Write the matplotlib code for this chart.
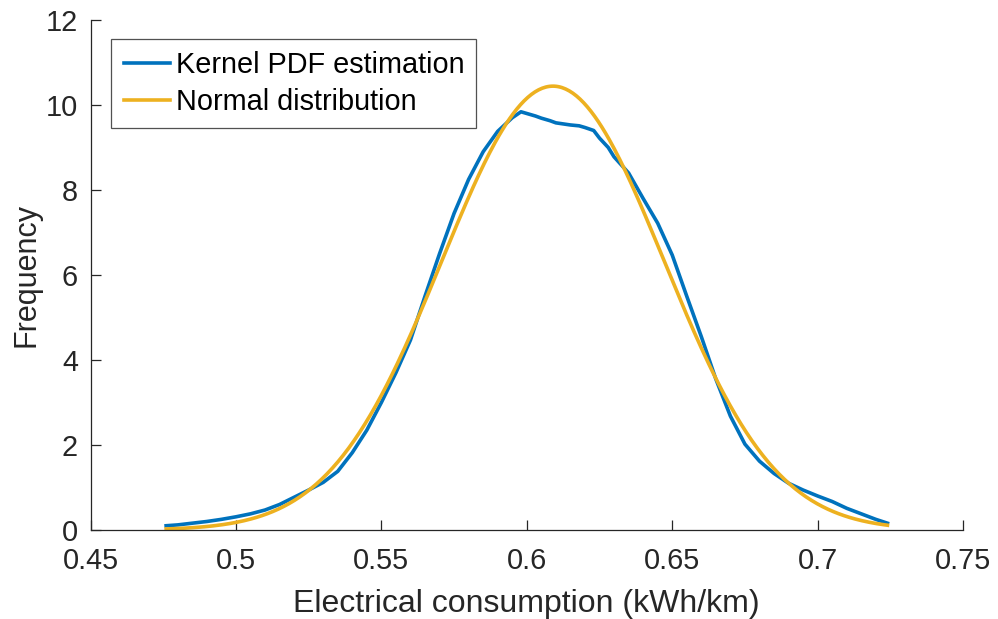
import numpy as np
import matplotlib
matplotlib.use("Agg")
import matplotlib.pyplot as plt

# Kernel density estimate of electrical consumption (kWh/km)
kde_x = [0.476, 0.480, 0.485, 0.490, 0.495, 0.500, 0.505, 0.510, 0.515, 0.520,
         0.525, 0.530, 0.535, 0.540, 0.545, 0.550, 0.555, 0.560, 0.565, 0.570,
         0.575, 0.580, 0.585, 0.590, 0.595, 0.598, 0.600, 0.603, 0.605, 0.608,
         0.610, 0.613, 0.615, 0.618, 0.620, 0.623, 0.625, 0.628, 0.630, 0.635,
         0.640, 0.645, 0.650, 0.655, 0.660, 0.665, 0.670, 0.675, 0.680, 0.685,
         0.690, 0.695, 0.700, 0.705, 0.710, 0.715, 0.720, 0.724]
kde_y = [0.10, 0.12, 0.16, 0.20, 0.25, 0.31, 0.38, 0.47, 0.60, 0.77,
         0.94, 1.12, 1.38, 1.82, 2.35, 3.00, 3.70, 4.47, 5.50, 6.50,
         7.45, 8.25, 8.90, 9.38, 9.70, 9.84, 9.80, 9.74, 9.69, 9.63,
         9.58, 9.55, 9.53, 9.51, 9.47, 9.40, 9.22, 9.00, 8.78, 8.40,
         7.80, 7.22, 6.47, 5.50, 4.55, 3.55, 2.68, 2.02, 1.62, 1.33,
         1.10, 0.94, 0.80, 0.67, 0.51, 0.38, 0.25, 0.16]

# Fitted normal distribution parameters
norm_mu = 0.609
norm_sigma = 0.0382
norm_range = [0.476, 0.724]

x_ticks = [0.45, 0.5, 0.55, 0.6, 0.65, 0.7, 0.75]
x_tick_labels = ["0.45", "0.5", "0.55", "0.6", "0.65", "0.7", "0.75"]
y_ticks = [0, 2, 4, 6, 8, 10, 12]

plt.rcParams["font.family"] = ["Liberation Sans", "DejaVu Sans"]

fig = plt.figure(figsize=(9.98, 6.19), dpi=100)
ax = fig.add_axes([0.0907, 0.1438, 0.8743, 0.8239])

nx = np.linspace(norm_range[0], norm_range[1], 400)
ny = np.exp(-0.5 * ((nx - norm_mu) / norm_sigma) ** 2) / (norm_sigma * np.sqrt(2 * np.pi))

ax.plot(kde_x, kde_y, color="#0072BD", lw=2.6, label="Kernel PDF estimation",
        solid_joinstyle="round")
ax.plot(nx, ny, color="#EDB120", lw=2.6, label="Normal distribution")

ax.set_xlim(0.45, 0.75)
ax.set_ylim(0, 12)
ax.set_xticks(x_ticks)
ax.set_xticklabels(x_tick_labels)
ax.set_yticks(y_ticks)

dark = "#262626"
for side in ["top", "right"]:
    ax.spines[side].set_visible(False)
for side in ["left", "bottom"]:
    ax.spines[side].set_color(dark)
    ax.spines[side].set_linewidth(0.9)
ax.tick_params(direction="in", length=7, width=0.9, colors=dark,
               labelsize=20.8)
ax.tick_params(axis="x", pad=12)
ax.tick_params(axis="y", pad=9)

ax.set_xlabel("Electrical consumption (kWh/km)", fontsize=23, color=dark, labelpad=10)
ax.set_ylabel("Frequency", fontsize=22, color=dark, labelpad=3)

leg = ax.legend(loc="upper left", bbox_to_anchor=(0.024, 0.963), fontsize=20.8,
                frameon=True, fancybox=False, edgecolor=dark, handlelength=1.6,
                handletextpad=0.2, borderpad=0.42, labelspacing=0.3,
                borderaxespad=0)
leg.get_frame().set_linewidth(0.9)

fig.savefig("out.png", dpi=100)
